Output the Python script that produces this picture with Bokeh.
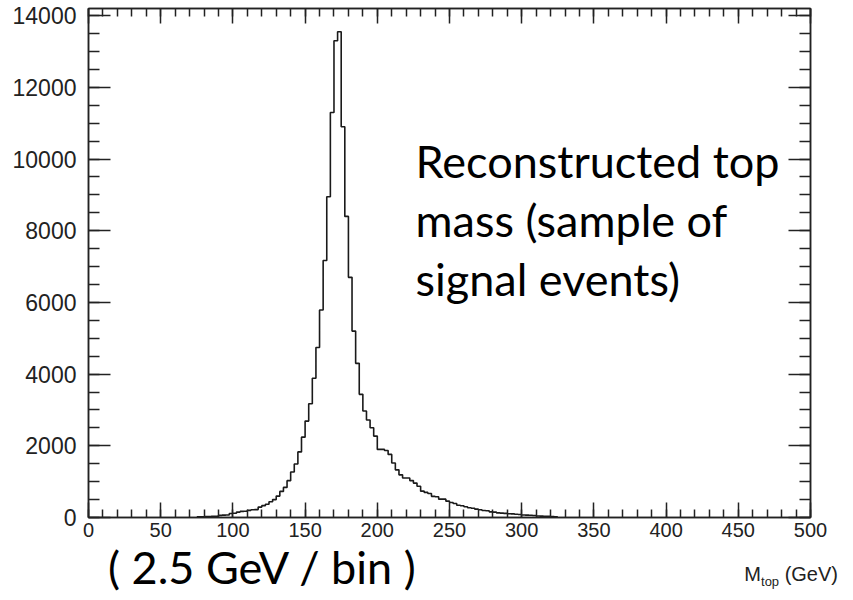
import numpy as np
from bokeh.plotting import figure
from bokeh.layouts import column
from bokeh.models import (LinearAxis, SingleIntervalTicker, Label, CustomJSTickFormatter, Range1d, Div)
from bokeh.embed import file_html
from bokeh.resources import INLINE

# ---- data ----
bin_width = 2.5
first_edge = 75.0
counts = [
    20, 20, 25, 25, 30, 30, 60, 65, 70, 110,            # 75 - 97.5
    120, 150, 170, 175, 200, 215, 220, 290, 330, 370,   # 100 - 122.5
    440, 500, 597, 728, 840, 1028, 1269, 1493, 1830, 2241,  # 125 - 147.5
    2689, 3174, 3885, 4743, 5790, 7170, 8950, 11300, 13300, 13550,  # 150 - 172.5
    10900, 8400, 6700, 5200, 4300, 3436, 2970, 2718, 2505, 2271,  # 175 - 197.5
    1900, 1900, 1870, 1760, 1520, 1330, 1190, 1100, 1100, 1030,   # 200 - 222.5
    960, 870, 735, 700, 670, 590, 578, 512, 512, 456,             # 225 - 247.5
    420, 391, 340, 326, 300, 270, 260, 233, 215, 196,             # 250 - 272.5
    190, 158, 150, 130, 121, 115, 105, 102, 90, 84,               # 275 - 297.5
    70, 65, 62, 55, 40, 37, 35, 30, 25, 20,                       # 300 - 322.5
]
x_ticks_interval = 50
y_ticks_interval = 2000
x_max = 500
y_max = 14200
annotation_lines = ["Reconstructed top", "mass (sample of", "signal events)"]
annotation_x = 226.5
annotation_baselines = [9950, 8300, 6650]
bin_note = "( 2.5 GeV / bin )"
axis_title_main = "M"
axis_title_sub = "top"
axis_title_unit = " (GeV)"

edges = first_edge + bin_width * np.arange(len(counts) + 1)
step_y = list(counts) + [counts[-1]]

W = 850
p = figure(width=W, height=545, x_range=Range1d(0, x_max), y_range=Range1d(0, y_max),
           output_backend="svg", toolbar_location=None,
           min_border_left=88, min_border_right=40, min_border_top=8, min_border_bottom=28,
           x_axis_type=None, y_axis_type=None)
p.grid.visible = False
p.outline_line_color = "#222222"
p.outline_line_width = 1.5
p.background_fill_color = "white"
p.border_fill_color = "white"

p.step(x=edges, y=step_y, mode="after", line_color="#1a1a1a", line_width=1.6)

def style_axis(ax, major, minor, size, labels=True):
    ax.major_tick_in = major
    ax.major_tick_out = 0
    ax.minor_tick_in = minor
    ax.minor_tick_out = 0
    ax.axis_line_color = "#222222"
    ax.axis_line_width = 1.5
    ax.major_tick_line_color = "#222222"
    ax.minor_tick_line_color = "#222222"
    ax.major_tick_line_width = 1.5
    ax.minor_tick_line_width = 1.5
    ax.major_label_text_font = "Liberation Sans"
    ax.major_label_text_font_size = size
    ax.major_label_text_color = "#222222"
    if not labels:
        ax.formatter = CustomJSTickFormatter(code="return ''")
        ax.major_label_text_font_size = "0px"
        ax.major_label_standoff = 0

xb = LinearAxis(ticker=SingleIntervalTicker(interval=x_ticks_interval, num_minor_ticks=5))
style_axis(xb, 15, 8, "20px")
xb.major_label_standoff = 5
p.add_layout(xb, "below")
xt = LinearAxis(ticker=SingleIntervalTicker(interval=x_ticks_interval, num_minor_ticks=5))
style_axis(xt, 15, 8, "0px", labels=False)
p.add_layout(xt, "above")

yl = LinearAxis(ticker=SingleIntervalTicker(interval=y_ticks_interval, num_minor_ticks=4))
style_axis(yl, 22, 11, "23px")
yl.major_label_standoff = 12
p.add_layout(yl, "left")
yr = LinearAxis(ticker=SingleIntervalTicker(interval=y_ticks_interval, num_minor_ticks=4))
style_axis(yr, 22, 11, "0px", labels=False)
p.add_layout(yr, "right")

# annotation inside the frame
for line, yb in zip(annotation_lines, annotation_baselines):
    p.add_layout(Label(x=annotation_x, y=yb, text=line, text_font="Lato",
                       text_font_size="45px", text_color="black",
                       text_baseline="alphabetic"))

# texts below the plot (bin note and axis title)
html = (
    f'<div style="position:relative;width:{W}px;height:53px;">'
    f'<div style="position:absolute;left:108px;top:0px;font-family:Lato;font-size:45px;'
    f'line-height:1;white-space:nowrap;color:black;">{bin_note}</div>'
    f'<div style="position:absolute;right:12px;top:19px;font-family:\'Liberation Sans\';'
    f'font-size:20px;line-height:1;white-space:nowrap;color:#222222;">{axis_title_main}'
    f'<span style="font-size:13px;position:relative;top:5px;">{axis_title_sub}</span>'
    f'{axis_title_unit}</div>'
    '</div>'
)
note = Div(text=html, width=W, height=53, styles={"margin": "0", "padding": "0"})

layout = column(p, note, spacing=0)
open("out.html", "w").write(file_html(layout, INLINE))
